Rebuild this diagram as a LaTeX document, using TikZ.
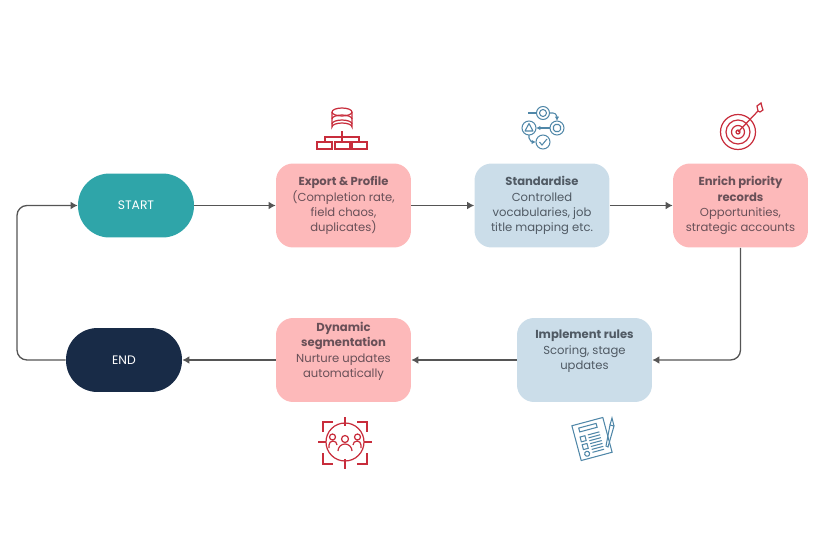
\documentclass[tikz,border=0pt]{standalone}
\usepackage{fontspec}
\setmainfont{Poppins}
\usetikzlibrary{arrows.meta}
\definecolor{cpink}{RGB}{253,185,186}
\definecolor{cblue}{RGB}{203,221,233}
\definecolor{cteal}{RGB}{47,165,169}
\definecolor{cnavy}{RGB}{24,43,71}
\definecolor{cline}{RGB}{85,85,85}
\definecolor{cred}{RGB}{200,45,60}
\definecolor{cicon}{RGB}{80,135,168}
\definecolor{ctxtpink}{RGB}{105,80,88}
\definecolor{ctxtblue}{RGB}{80,90,100}
\tikzset{
  pinkbox/.style={draw=none,fill=cpink,rounded corners=0.34cm,minimum width=2.7cm,minimum height=1.68cm,inner sep=0,align=center,text=ctxtpink,font=\fontsize{6.6}{8.6}\selectfont},
  bluebox/.style={pinkbox,fill=cblue,text=ctxtblue},
  pill/.style={draw=none,rounded corners=0.63cm,minimum width=2.32cm,minimum height=1.28cm,inner sep=0,text=white,font=\fontsize{7}{9}\selectfont},
  flow/.style={draw=cline,line width=0.75pt,rounded corners=0.2cm,-{Latex[length=4pt,width=4.5pt]}},
  redicon/.style={draw=cred,line width=0.7pt},
  blueicon/.style={draw=cicon,line width=0.6pt}
}

\begin{document}
\begin{tikzpicture}[x=0.02cm,y=-0.02cm]
\useasboundingbox (0,0) rectangle (822,548);

% start and end
\node[pill,fill=cteal] (start) at (136,205.5) {START};
\node[pill,fill=cnavy] (finish) at (124,360) {END};

% pink squares
\node[pinkbox] (export) at (343.5,205.5) {\textbf{Export \& Profile}\\(Completion rate,\\field chaos,\\duplicates)};
\node[pinkbox] (enrich) at (740.5,205.5) {\textbf{Enrich priority}\\\textbf{records}\\Opportunities,\\strategic accounts};
\node[pinkbox] (dynamic) at (343.5,360) {\textbf{Dynamic}\\\textbf{segmentation}\\Nurture updates\\automatically\\[3pt]};

% blue squares
\node[bluebox] (standard) at (542,205.5) {\textbf{Standardise}\\Controlled\\vocabularies, job\\title mapping etc.};
\node[bluebox] (implement) at (584.5,360) {\textbf{Implement rules}\\Scoring, stage\\updates\\[3pt]};

% connectors
\coordinate (back) at (17,280);
\draw[flow] (start) -- (export);
\draw[flow] (export) -- (standard);
\draw[flow] (standard) -- (enrich);
\draw[flow] (enrich.south) |- (implement.east);
\draw[flow] (implement) -- (dynamic);
\draw[flow] (dynamic) -- (finish);
\draw[flow] (finish.west) -| (back) |- (start.west);

% database icon
\begin{scope}[redicon]
\draw (332,112) arc[x radius=10,y radius=4,start angle=180,end angle=-180];
\draw (332,112) -- (332,127) arc[x radius=10,y radius=4,start angle=180,end angle=360] -- (352,112);
\draw (332,119) arc[x radius=10,y radius=4,start angle=180,end angle=360];
\draw (332,124) arc[x radius=10,y radius=4,start angle=180,end angle=360];
\draw (342,131) -- (342,142) (325,142) -- (325,137) -- (359,137) -- (359,142);
\draw (317,142) rectangle (332,149);
\draw (335,142) rectangle (350,149);
\draw (352,142) rectangle (367,149);
\end{scope}

% workflow icon
\begin{scope}[blueicon,-]
\draw (543,113) circle (6.5) (543,113) circle (3.5);
\draw (557,128) circle (7);
\draw[rounded corners=1] (553.5,124.5) rectangle (560.5,131.5);
\draw (529,128) circle (7);
\draw[line join=round] (529,123.5) -- (533,131) -- (525,131) -- cycle;
\draw (543,142) circle (7);
\draw (539.5,142) -- (542,145) -- (547,139);
\draw (528,113) -- (536.5,113);
\draw[-{Latex[length=2.5pt,width=2.5pt]}] (549.5,113) -- (553,113) to[out=0,in=90] (557,121);
\draw[-{Latex[length=2.5pt,width=2.5pt]}] (550,128) -- (536,128);
\draw[-{Latex[length=2.5pt,width=2.5pt]}] (529,135) -- (529,138) to[out=-90,in=180] (536,142);
\end{scope}

% target icon
\begin{scope}[redicon]
\draw (738,132) circle (17.5) (738,132) circle (12) (738,132) circle (6.5) (738,132) circle (2);
\draw (738,132) -- (758,111);
\draw (758,111) -- (757,106) -- (761,103) -- (762,107) -- (763,110) -- (760,112) -- cycle;
\end{scope}

% segmentation icon
\begin{scope}[redicon]
\draw (345,442) circle (19);
\draw (345,417) -- (345,426) (345,459) -- (345,469) (318,442) -- (326,442) (364,442) -- (372,442);
\draw (323,432) -- (323,422) -- (333,422) (357,422) -- (367,422) -- (367,432);
\draw (323,453) -- (323,464) -- (333,464) (357,464) -- (367,464) -- (367,453);
\draw (345,439) circle (3.5) (332.5,437) circle (3) (357.5,437) circle (3);
\draw (338,451) arc[radius=7,start angle=180,end angle=360];
\draw (329,448) -- (329,445) arc[radius=4,start angle=180,end angle=360];
\draw (353,445) arc[radius=4,start angle=180,end angle=360] -- (361,448);
\end{scope}

% checklist icon
\begin{scope}[blueicon,shift={(592,439)},rotate=15]
\draw (-16,-18) rectangle (16,18);
\draw (-10,-14) rectangle (8,-10);
\draw (-11,-5) rectangle (-6,0) (-11,3) rectangle (-6,8);
\draw (-8.5,13) circle (2.5);
\foreach \yy in {-5,-2,1,4,7,10,13} \draw (-3,\yy) -- (9,\yy);
\end{scope}
\begin{scope}[blueicon]
\draw (606,446) -- (610,425) -- (614,426) -- (608,447) -- cycle;
\draw (610,425) -- (612,418) -- (614,426);
\end{scope}
\end{tikzpicture}
\end{document}
